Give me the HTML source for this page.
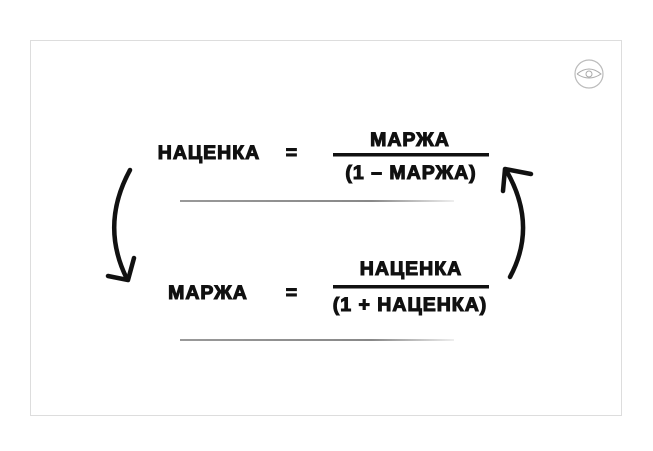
<!DOCTYPE html>
<html><head><meta charset="utf-8"><style>
body{margin:0;width:653px;height:451px;background:#fff;position:relative;overflow:hidden;font-family:"Liberation Sans","DejaVu Sans",sans-serif;}
.b{position:absolute;font-weight:bold;font-size:19.5px;letter-spacing:1px;color:#111;white-space:nowrap;line-height:22px;transform:translateX(-50%);-webkit-text-stroke:1.1px #111;}
</style></head><body>
<div style="position:absolute;left:30px;top:40px;width:590px;height:374px;border:1px solid #ddd;"></div>
<svg width="653" height="451" style="position:absolute;left:0;top:0">
<defs><linearGradient id="g" x1="0" x2="1"><stop offset="0" stop-color="#999"/><stop offset="0.7" stop-color="#888"/><stop offset="1" stop-color="#eee"/></linearGradient></defs>
<circle cx="589" cy="74" r="14" fill="none" stroke="#bbb" stroke-width="1.2"/>
<path d="M577 74 Q589 64 601 74 Q589 82 577 74" fill="none" stroke="#aaa"/>
<circle cx="589" cy="74" r="3" fill="none" stroke="#aaa"/>
<rect x="333" y="153" width="156" height="3.5" fill="#111"/>
<rect x="333" y="285" width="156" height="3.5" fill="#111"/>
<rect x="180" y="200" width="274" height="2" fill="url(#g)"/>
<rect x="180" y="339" width="274" height="2" fill="url(#g)"/>
<path d="M130 170 Q100 225 127 279" fill="none" stroke="#111" stroke-width="4.5" stroke-linecap="round"/>
<path d="M108 276 L128 280 L134 258" fill="none" stroke="#111" stroke-width="4.5" stroke-linecap="round" stroke-linejoin="round"/>
<path d="M510 277 Q538 225 506 170" fill="none" stroke="#111" stroke-width="4.5" stroke-linecap="round"/>
<path d="M503 191 L505 169 L531 174" fill="none" stroke="#111" stroke-width="4.5" stroke-linecap="round" stroke-linejoin="round"/>
</svg>
<div class="b" style="left:209px;top:142px">НАЦЕНКА</div>
<div class="b" style="left:292px;top:142px">=</div>
<div class="b" style="left:410px;top:129px">МАРЖА</div>
<div class="b" style="left:411px;top:162px">(1 – МАРЖА)</div>
<div class="b" style="left:208px;top:282px">МАРЖА</div>
<div class="b" style="left:292px;top:282px">=</div>
<div class="b" style="left:411px;top:258px">НАЦЕНКА</div>
<div class="b" style="left:410px;top:294px">(1 + НАЦЕНКА)</div>
</body></html>
